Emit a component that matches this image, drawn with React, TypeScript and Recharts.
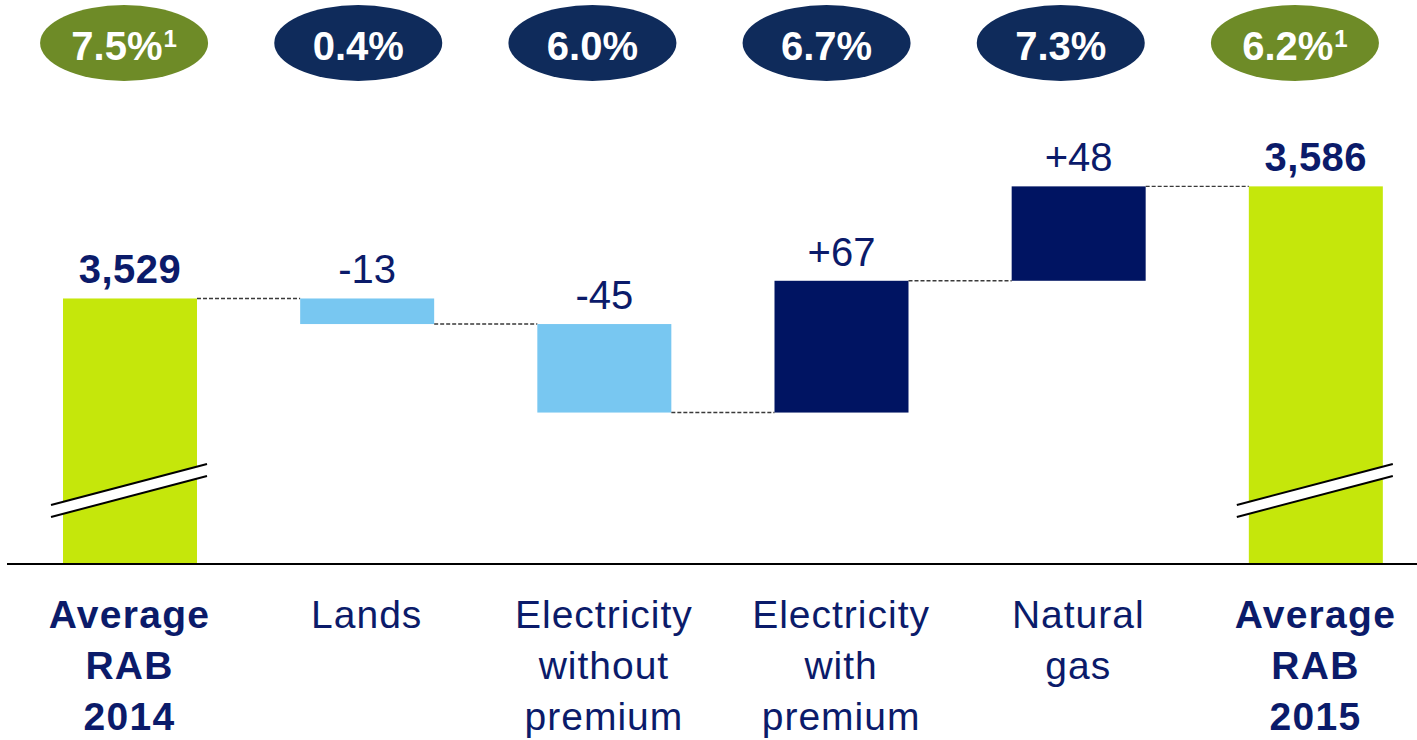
import { Bar, BarChart, Cell, LabelList, XAxis, YAxis } from "recharts";

// category names (split on spaces for the multi-line axis labels)
const categories = [
  "Average RAB 2014",
  "Lands",
  "Electricity without premium",
  "Electricity with premium",
  "Natural gas",
  "Average RAB 2015",
];
const rates = ["7.5%", "0.4%", "6.0%", "6.7%", "7.3%", "6.2%"];
const rateFootnote = [true, false, false, false, false, true];
const startRab = 3529;
const endRab = 3586;
const deltas = [-13, -45, 67, 48];

const Y_MIN = 3394;
const Y_MAX = 3635;

const GREEN = "#c5e70b";
const LIGHT_BLUE = "#78c7f1";
const NAVY_BAR = "#001462";
const PILL_GREEN = "#6e8b27";
const PILL_NAVY = "#0f2b5b";
const TEXT_NAVY = "#0b1b6a";
const FONT = "'Liberation Sans', Arial, sans-serif";

const CHART_W = 1434;
const CHART_H = 740;
const MARGIN = { top: 0, right: 0, left: 7, bottom: 0 };
const BOTTOM_PAD_LEFT = 4;
const TOP_PAD_RIGHT = 22;
const BAR_SIZE = 134;
const BAND = (CHART_W - MARGIN.left - MARGIN.right - BOTTOM_PAD_LEFT) / categories.length;

type Row = {
  name: string;
  rate: string;
  range: [number, number];
  label: string;
  kind: "total" | "up" | "down";
  last: boolean;
};

// build the waterfall rows
const rows: Row[] = [];
rows.push({
  name: categories[0],
  rate: rates[0],
  range: [Y_MIN, startRab],
  label: startRab.toLocaleString("en-US"),
  kind: "total",
  last: false,
});
let running = startRab;
deltas.forEach((d, i) => {
  const next = running + d;
  rows.push({
    name: categories[i + 1],
    rate: rates[i + 1],
    range: [Math.min(running, next), Math.max(running, next)],
    label: (d > 0 ? "+" : "") + d,
    kind: d >= 0 ? "up" : "down",
    last: false,
  });
  running = next;
});
rows.push({
  name: categories[5],
  rate: rates[5],
  range: [Y_MIN, endRab],
  label: endRab.toLocaleString("en-US"),
  kind: "total",
  last: true,
});

const fillFor = (r: Row) =>
  r.kind === "total" ? GREEN : r.kind === "down" ? LIGHT_BLUE : NAVY_BAR;

function WaterfallBar(props: any) {
  const { x, y, width, height, payload } = props;
  const r = payload as Row;
  const bottom = y + height;
  const endY = r.kind === "down" ? bottom : y;
  const gap = BAND - width;
  return (
    <g>
      <rect x={x} y={y} width={width} height={height} fill={fillFor(r)} />
      {r.kind === "total" && (
        <g>
          <polygon
            points={`${x - 12},${bottom - 59} ${x + width + 10},${bottom - 100} ${x + width + 10},${bottom - 88} ${x - 12},${bottom - 47}`}
            fill="#fff"
          />
          <line x1={x - 12} y1={bottom - 59} x2={x + width + 10} y2={bottom - 100} stroke="#000" strokeWidth={2} />
          <line x1={x - 12} y1={bottom - 47} x2={x + width + 10} y2={bottom - 88} stroke="#000" strokeWidth={2} />
        </g>
      )}
      {!r.last && (
        <line
          x1={x + width}
          y1={endY}
          x2={x + width + gap}
          y2={endY}
          stroke="#3a3a3a"
          strokeWidth={1.4}
          strokeDasharray="4 2"
        />
      )}
    </g>
  );
}

function ValueLabel(props: any) {
  const { x, y, width, value, index } = props;
  const bold = rows[index]?.kind === "total";
  return (
    <text
      x={x + width / 2}
      y={y - 15}
      textAnchor="middle"
      fontFamily={FONT}
      fontSize={40}
      letterSpacing={bold ? 0.5 : 0}
      fontWeight={bold ? 700 : 400}
      fill={TEXT_NAVY}
    >
      {value}
    </text>
  );
}

function CategoryTick(props: any) {
  const { x, y, payload, index } = props;
  const bold = index === 0 || index === categories.length - 1;
  const lines = String(payload.value).split(" ");
  return (
    <text
      x={x}
      y={y + 64}
      textAnchor="middle"
      fontFamily={FONT}
      fontSize={39}
      letterSpacing={bold ? 1.3 : 1}
      fontWeight={bold ? 700 : 400}
      fill={TEXT_NAVY}
    >
      {lines.map((l, i) => (
        <tspan key={i} x={x} dy={i === 0 ? 0 : 51}>
          {l}
        </tspan>
      ))}
    </text>
  );
}

function RateTick(props: any) {
  const { x, y, payload, index } = props;
  const foot = rateFootnote[index];
  const cy = y - 47;
  return (
    <g>
      <ellipse cx={x} cy={cy} rx={84} ry={38} fill={foot ? PILL_GREEN : PILL_NAVY} />
      <text
        x={x}
        y={cy + 17}
        textAnchor="middle"
        fontFamily={FONT}
        fontSize={40}
        fontWeight={700}
        fill="#fff"
      >
        {payload.value}
        {foot && (
          <tspan fontSize={24} dy={-13} dx={1}>
            1
          </tspan>
        )}
      </text>
    </g>
  );
}

export default function App() {
  return (
    <div style={{ width: 1417, height: 740, overflow: "hidden", background: "#fff" }}>
      <style>{"body{margin:0;overflow:hidden}"}</style>
      <BarChart width={CHART_W} height={CHART_H} data={rows} margin={MARGIN}>
        <XAxis
          xAxisId="top"
          dataKey="rate"
          orientation="top"
          height={90}
          axisLine={false}
          tickLine={false}
          tickSize={0}
          tickMargin={0}
          padding={{ left: 0, right: TOP_PAD_RIGHT }}
          interval={0}
          tick={<RateTick />}
        />
        <XAxis
          xAxisId="bottom"
          dataKey="name"
          height={176}
          axisLine={{ stroke: "#000", strokeWidth: 2 }}
          tickLine={false}
          tickSize={0}
          tickMargin={0}
          padding={{ left: BOTTOM_PAD_LEFT, right: 0 }}
          interval={0}
          tick={<CategoryTick />}
        />
        <YAxis hide domain={[Y_MIN, Y_MAX]} allowDataOverflow />
        <Bar
          xAxisId="bottom"
          dataKey="range"
          barSize={BAR_SIZE}
          shape={<WaterfallBar />}
          isAnimationActive={false}
        >
          {rows.map((r, i) => (
            <Cell key={i} fill={fillFor(r)} />
          ))}
          <LabelList dataKey="label" content={<ValueLabel />} />
        </Bar>
        <Bar xAxisId="top" dataKey="range" fill="transparent" isAnimationActive={false} />
      </BarChart>
    </div>
  );
}
